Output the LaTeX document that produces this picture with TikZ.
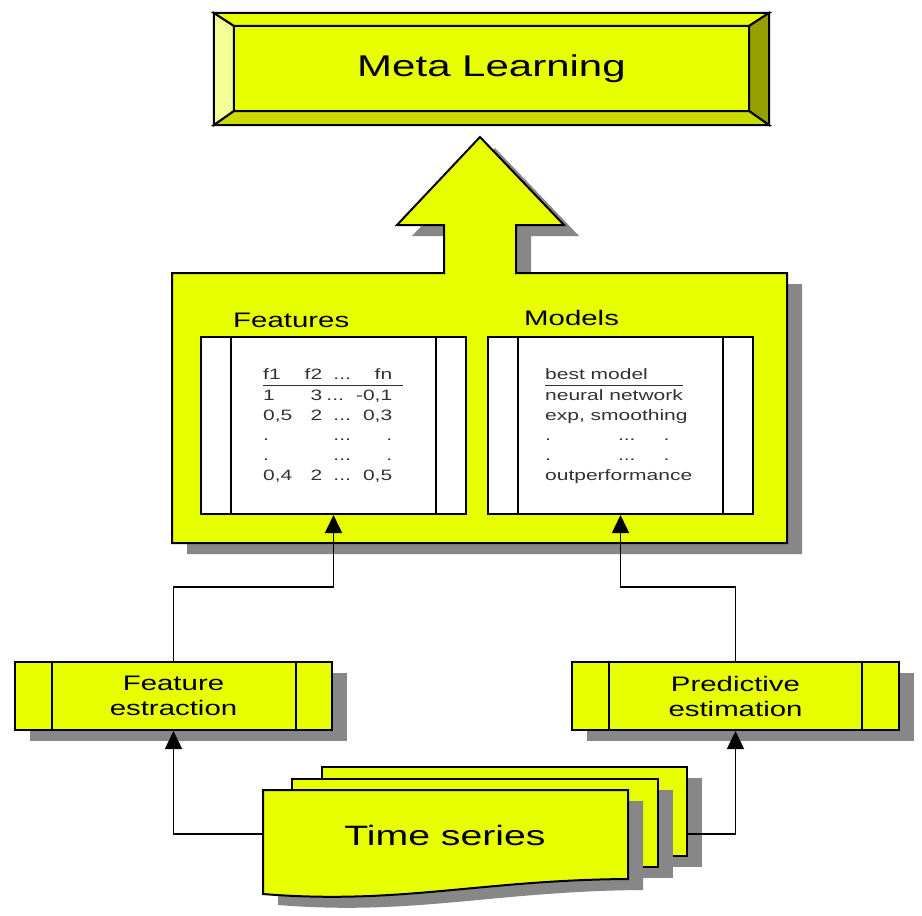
\documentclass[tikz,border=0pt]{standalone}
\usepackage{fontspec}
\usepackage{array}
\setmainfont{Liberation Sans}[FakeStretch=1.4]
\usetikzlibrary{calc,arrows.meta,shadows}

\definecolor{boxyellow}{RGB}{232,255,0}
\definecolor{bevellight}{RGB}{244,255,150}
\definecolor{beveldark}{RGB}{200,218,0}
\definecolor{bevelside}{RGB}{150,160,0}
\definecolor{shadowgrey}{RGB}{135,135,135}
\definecolor{tabletext}{RGB}{50,50,50}

\tikzset{
  softshadow/.style={drop shadow={shadow xshift=15pt, shadow yshift=-11pt, fill=shadowgrey, opacity=1}},
  box/.style={draw, line width=2pt, fill=boxyellow, inner sep=0pt},
  panel/.style={draw, line width=2pt, fill=white, inner sep=0pt, minimum width=265pt, minimum height=177pt},
  stepbox/.style={box, softshadow, minimum height=68pt, align=center, font=\fontsize{21}{25}\selectfont},
  paneltitle/.style={anchor=base west, inner sep=0pt, font=\fontsize{21}{25}\selectfont},
  tabtext/.style={anchor=base west, inner sep=0pt, text=tabletext, font=\fontsize{15}{20}\selectfont},
  divider/.style={line width=2pt},
  link/.style={line width=1.5pt, -{Triangle[length=18pt,width=17pt]}}
}

\begin{document}
\begin{tikzpicture}[x=1pt, y=-1pt]
  \useasboundingbox (0,0) rectangle (922,916);

  %%%%% meta learning box with bevels %%%%%
  \node[box, line width=2.2pt, minimum width=553pt, minimum height=110pt,
        font=\fontsize{30}{36}\selectfont] (meta) at (491.5,69) {Meta Learning};
  \coordinate (mi1) at ($(meta.north west)+(20,13)$);
  \coordinate (mi2) at ($(meta.north east)+(-20,13)$);
  \coordinate (mi3) at ($(meta.south east)+(-20,-14)$);
  \coordinate (mi4) at ($(meta.south west)+(20,-14)$);
  \draw[divider, fill=bevellight] (meta.north west) -- (mi1) -- (mi4) -- (meta.south west) -- cycle;
  \draw[divider, fill=boxyellow] (meta.north west) -- (meta.north east) -- (mi2) -- (mi1) -- cycle;
  \draw[divider, fill=bevelside] (meta.north east) -- (meta.south east) -- (mi3) -- (mi2) -- cycle;
  \draw[divider, fill=beveldark] (meta.south west) -- (meta.south east) -- (mi3) -- (mi4) -- cycle;
  \draw[line width=2.2pt] (meta.north west) rectangle (meta.south east);

  %%%%% container with the big arrow on top %%%%%
  \draw[box, softshadow] (172,273) -- (444,273) -- (444,225) -- (397,225) -- (480,137)
    -- (564,225) -- (516,225) -- (516,273) -- (787,273) -- (787,543) -- (172,543) -- cycle;

  \node[paneltitle] (featlabel) at (233,327) {Features};
  \node[paneltitle] (modlabel) at (524,325) {Models};

  \node[panel] (feat) at (333.5,425.5) {};
  \draw[divider] ($(feat.north west)+(31,0)$) -- ($(feat.south west)+(31,0)$);
  \draw[divider] ($(feat.north east)+(-31,0)$) -- ($(feat.south east)+(-31,0)$);

  \node[panel] (models) at (620.5,425.5) {};
  \draw[divider] ($(models.north west)+(31,0)$) -- ($(models.south west)+(31,0)$);
  \draw[divider] ($(models.north east)+(-31,0)$) -- ($(models.south east)+(-31,0)$);

  % table of features
  \node[tabtext] (feattab) at (263,379) {\setlength{\arrayrulewidth}{1pt}%
    \begin{tabular}[t]{@{}w{l}{37pt}@{}w{r}{22pt}@{}w{c}{40pt}@{}w{r}{30pt}@{\hspace{11pt}}}
      f1 & f2 & ... & fn \\ \hline
      1 & 3 & \hspace{-14pt}... & -0,1 \\
      0,5 & 2 & ... & 0,3 \\
      . & & ... & . \\
      . & & ... & . \\
      0,4 & 2 & ... & 0,5 \\
    \end{tabular}};

  % table of models
  \node[tabtext] (modtab) at (545,379) {\setlength{\arrayrulewidth}{1pt}%
    \begin{tabular}[t]{@{}w{l}{138pt}@{}}
      best model \\ \hline
      neural network \\
      exp, smoothing \\
      .\hspace{67pt}...\hspace{28pt}. \\
      .\hspace{67pt}...\hspace{28pt}. \\
      outperformance \\
    \end{tabular}};

  %%%%% processing steps %%%%%
  \node[stepbox, minimum width=317pt] (fe) at (173.5,696) {Feature\\estraction};
  \draw[divider] ($(fe.north west)+(38,0)$) -- ($(fe.south west)+(38,0)$);
  \draw[divider] ($(fe.north east)+(-37,0)$) -- ($(fe.south east)+(-37,0)$);

  \node[stepbox, minimum width=327pt] (pe) at (735.5,696) {Predictive\\estimation};
  \draw[divider] ($(pe.north west)+(38,0)$) -- ($(pe.south west)+(38,0)$);
  \draw[divider] ($(pe.north east)+(-38,0)$) -- ($(pe.south east)+(-38,0)$);

  %%%%% stack of time series documents %%%%%
  \draw[box, softshadow] (322,767) rectangle (687,856);
  \draw[box, softshadow] (292,779) rectangle (658,867);
  \draw[box, softshadow] (263,790) -- (628,790) -- (628,879)
    .. controls (480,880) and (400,905) .. (263,894) -- cycle;
  \node[font=\fontsize{28}{34}\selectfont] (ts) at (445,835) {Time series};
  \coordinate (tsleft) at (263,834);
  \coordinate (tsright) at (687,834);

  %%%%% connectors %%%%%
  \draw[link] (tsleft) -| (fe.south);
  \draw[link] (tsright) -| (pe.south);
  \draw[link] (fe.north) -- ++(0,-74) -| (feat.south);
  \draw[link] (pe.north) -- ++(0,-74) -| (models.south);
\end{tikzpicture}
\end{document}
